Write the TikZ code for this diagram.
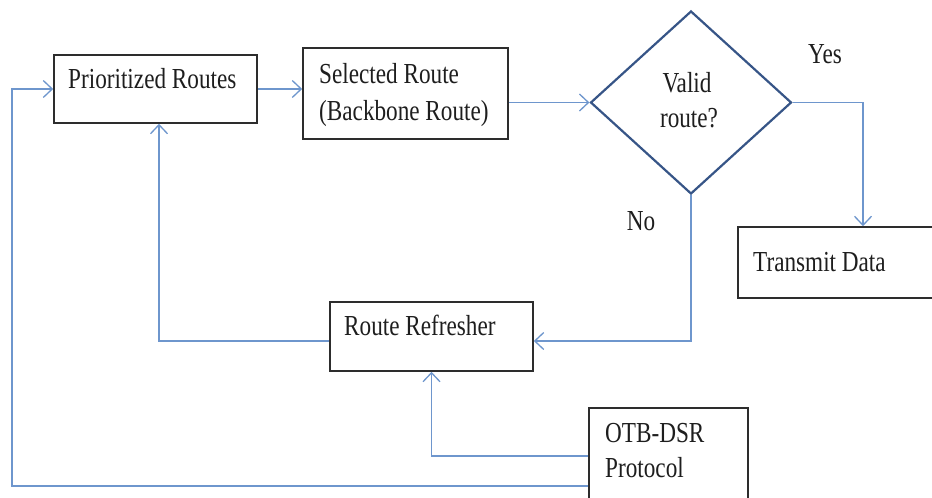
\documentclass[tikz,border=0pt]{standalone}
\usepackage{fontspec}
\setmainfont{Liberation Serif}[FakeStretch=0.8]
\usetikzlibrary{shapes.geometric,arrows.meta,calc}
\definecolor{lineblue}{RGB}{110,150,205}
\definecolor{diablue}{RGB}{55,85,135}
\definecolor{boxgray}{RGB}{45,45,45}
\definecolor{txt}{RGB}{30,30,30}
\begin{document}
\begin{tikzpicture}[x=1pt,y=-1pt,
  box/.style={draw=boxgray, line width=1.6pt, rectangle, inner sep=0pt},
  lab/.style={inner sep=0pt, text=txt, font=\fontsize{29}{37}\selectfont},
  conn/.style={draw=lineblue, line width=1.8pt},
  arr/.style={conn, -{Straight Barb[length=9pt,width=17pt,line width=1.3pt]}}]
\useasboundingbox (0,0) rectangle (932,498);
\clip (0,0) rectangle (932,498);
\fill[white] (0,0) rectangle (932,498);
% boxes
\node[box, minimum width=203pt, minimum height=68pt] (pr) at (155.5,89) {};
\node[box, minimum width=205pt, minimum height=91pt] (sr) at (405.5,93.5) {};
\node[draw=diablue, line width=2.2pt, diamond, inner sep=0pt, minimum width=201pt, minimum height=183pt] (dm) at (691,102.5) {};
\node[box, minimum width=250pt, minimum height=71pt] (td) at (863,262.5) {};
\node[box, minimum width=203pt, minimum height=69pt] (rr) at (431.5,336.5) {};
\node[box, minimum width=159pt, minimum height=130pt] (otb) at (668.5,473) {};
% texts
\node[lab, anchor=base west] (tpr) at (68,88) {Prioritized Routes};
\node[lab, anchor=base west] (tsr1) at (319,83) {Selected Route};
\node[lab, anchor=base west] (tsr2) at (319,120) {(Backbone Route)};
\node[lab, anchor=base] (tv1) at (687,92) {Valid};
\node[lab, anchor=base] (tv2) at (689,127) {route?};
\node[lab, anchor=base] (tyes) at (825,63) {Yes};
\node[lab, anchor=base] (tno) at (641,230) {No};
\node[lab, anchor=base west] (ttd) at (753,271) {Transmit Data};
\node[lab, anchor=base west] (trr) at (344,335) {Route Refresher};
\node[lab, anchor=base west] (to1) at (605,442) {OTB-DSR};
\node[lab, anchor=base west] (to2) at (605,477) {Protocol};
% connectors
\draw[arr] (pr.east) -- (pr.east -| sr.west);
\draw[arr] (sr.east |- dm.west) -- (dm.west);
\draw[arr] (dm.east) -| (td.north);
\draw[arr] (dm.south) |- ([yshift=-4.5pt]rr.east);
\draw[arr] ([yshift=-4.5pt]rr.west) -| ([xshift=3.5pt]pr.south);
\draw[arr] ([yshift=17pt]otb.west) -| (rr.south);
\draw[arr] ([yshift=-13pt]otb.west) -| ([xshift=-41pt]pr.west) -- (pr.west);
\end{tikzpicture}
\end{document}
